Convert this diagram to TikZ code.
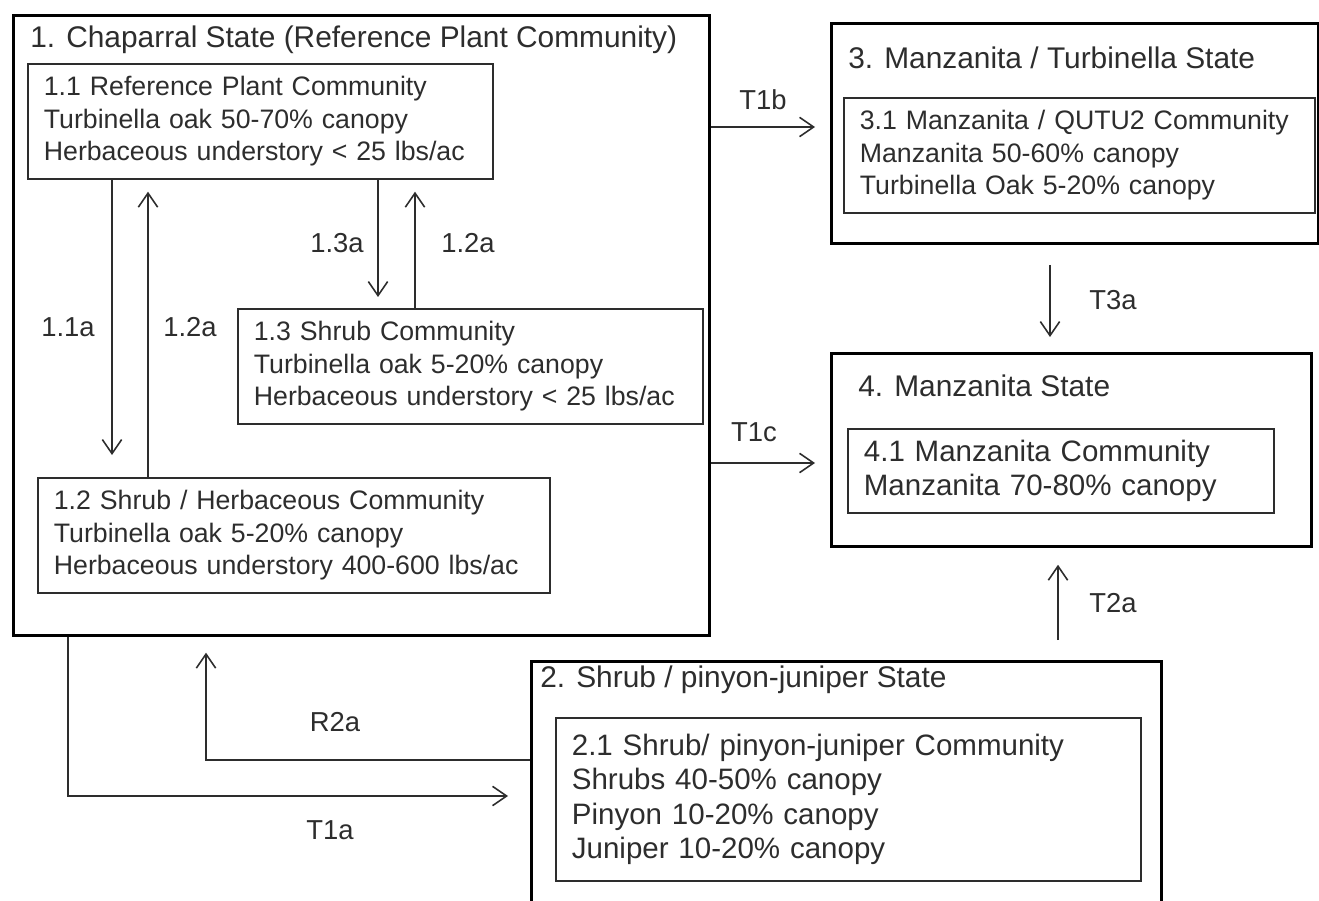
\documentclass[tikz,border=0pt]{standalone}
\usepackage{fontspec}
\setmainfont{Liberation Sans}
\usepackage{xcolor}
\usepackage{tikz}
\usetikzlibrary{arrows.meta}
\definecolor{InkGray}{RGB}{45,45,45}
\newcommand{\smallbody}{\fontsize{15.2}{18.5}\selectfont}
\newcommand{\largebody}{\fontsize{16.8}{19.6}\selectfont}
\tikzset{
    statebox/.style={
        draw, line width=1.6pt, anchor=north west, inner sep=0pt
    },
    commbox/.style={
        draw=InkGray, line width=1pt, anchor=north west, align=left,
        inner xsep=0.32cm, inner ysep=0pt, text=InkGray, font=\smallbody
    },
    statetitle/.style={
        anchor=west, inner sep=0pt, text=InkGray, font=\fontsize{17}{20}\selectfont
    },
    trlabel/.style={
        inner sep=0pt, text=InkGray
    },
    trans/.style={
        -{Straight Barb[length=8pt, width=11pt]}, line width=0.9pt, InkGray
    }
}

\begin{document}
\begin{tikzpicture}[x=0.02cm, y=-0.02cm, font=\fontsize{15.6}{18.7}\selectfont]
    \useasboundingbox (0,0) rectangle (1319,901);

    % --- State 1 ---
    \node[statebox, minimum width=13.92cm, minimum height=12.4cm] (s1) at (12,14) {};
    \node[statetitle] (t1) at (30,40) {1. Chaparral State (Reference Plant Community)};
    \node[commbox, text width=8.66cm, minimum height=2.3cm] (c11) at (27,63) {
        1.1 Reference Plant Community\\
        Turbinella oak 50-70\% canopy\\
        Herbaceous understory < 25 lbs/ac};
    \node[commbox, text width=8.66cm, minimum height=2.3cm] (c13) at (237,308) {
        1.3 Shrub Community\\
        Turbinella oak 5-20\% canopy\\
        Herbaceous understory < 25 lbs/ac};
    \node[commbox, text width=9.6cm, minimum height=2.3cm] (c12) at (37,477) {
        1.2 Shrub / Herbaceous Community\\
        Turbinella oak 5-20\% canopy\\
        Herbaceous understory 400-600 lbs/ac};

    % --- State 3 ---
    \node[statebox, minimum width=9.74cm, minimum height=4.4cm] (s3) at (830,22) {};
    \node[statetitle] (t3) at (848,58) {3. Manzanita / Turbinella State};
    \node[commbox, text width=8.78cm, minimum height=2.3cm] (c31) at (843,97) {
        3.1 Manzanita / QUTU2 Community\\
        Manzanita 50-60\% canopy\\
        Turbinella Oak 5-20\% canopy};

    % --- State 4 ---
    \node[statebox, minimum width=9.6cm, minimum height=3.86cm] (s4) at (830,352) {};
    \node[statetitle] (t4) at (858,386) {4. Manzanita State};
    \node[commbox, font=\largebody, text width=7.88cm, minimum height=1.68cm] (c41) at (847,428) {
        4.1 Manzanita Community\\
        Manzanita 70-80\% canopy};

    % --- State 2 ---
    \node[statebox, minimum width=12.6cm, minimum height=5.2cm] (s2) at (530,660) {};
    \node[statetitle] (t2) at (540,680) {2. Shrub / pinyon-juniper State};
    \node[commbox, font=\largebody, text width=11.06cm, minimum height=3.26cm] (c21) at (555,717) {
        2.1 Shrub/ pinyon-juniper Community\\
        Shrubs 40-50\% canopy\\
        Pinyon 10-20\% canopy\\
        Juniper 10-20\% canopy};

    % pathways inside state 1
    \draw[trans, shorten >=0.44cm] (112,0 |- c11.south) -- (112,0 |- c12.north);
    \draw[trans, shorten >=0.24cm] (148,0 |- c12.north) -- (148,0 |- c11.south);
    \draw[trans, shorten >=0.22cm] (378,0 |- c11.south) -- (378,0 |- c13.north);
    \draw[trans, shorten >=0.24cm] (415,0 |- c13.north) -- (415,0 |- c11.south);
    \node[trlabel] (l11a) at (68,327) {1.1a};
    \node[trlabel] (l12a) at (190,327) {1.2a};
    \node[trlabel] (l13a) at (337,243) {1.3a};
    \node[trlabel] (l12b) at (468,243) {1.2a};

    % transitions
    \draw[trans, shorten >=0.3cm] (s1.east |- 0,127) -- (s3.west |- 0,127);
    \draw[trans, shorten >=0.3cm] (s1.east |- 0,463) -- (s4.west |- 0,463);
    \draw[trans, shorten <=0.4cm, shorten >=0.3cm] (1050,0 |- s3.south) -- (1050,0 |- s4.north);
    \draw[trans, shorten <=0.4cm, shorten >=0.34cm] (1058,0 |- s2.north) -- (1058,0 |- s4.south);
    \draw[trans, shorten >=0.32cm] (s2.west |- 0,760) -| (206,0 |- s1.south);
    \draw[trans, shorten >=0.44cm] (68,0 |- s1.south) |- (s2.west |- 0,796);
    \node[trlabel] (lT1b) at (763,100) {T1b};
    \node[trlabel] (lT1c) at (754,432) {T1c};
    \node[trlabel] (lT3a) at (1113,300) {T3a};
    \node[trlabel] (lT2a) at (1113,603) {T2a};
    \node[trlabel] (lR2a) at (335,722) {R2a};
    \node[trlabel] (lT1a) at (330,830) {T1a};
\end{tikzpicture}
\end{document}
